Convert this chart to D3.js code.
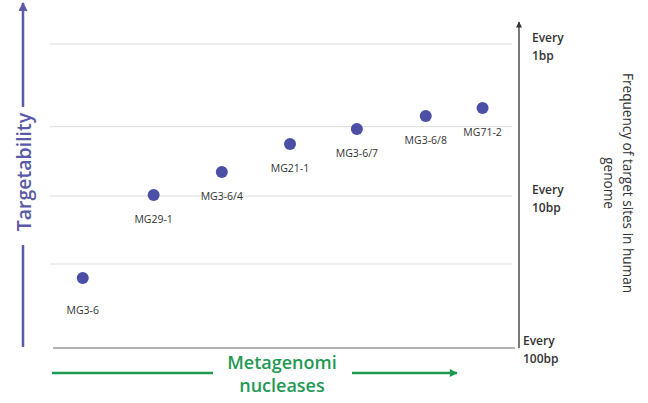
<!DOCTYPE html>
<html>
<head>
  <meta charset="utf-8">
  <title>Targetability of Metagenomi nucleases</title>
  <style>
    body { margin: 0; background: #fff; }
    svg { display: block; font-family: "Open Sans", sans-serif; }
    .grid line { stroke: #dcdcdc; stroke-width: 1px; }
    .dot { fill: #4b4fa6; }
    .label { font-size: 10.5px; fill: #333; }
    .tick-label { font-size: 12px; font-weight: 600; fill: #333; }
  </style>
</head>
<body>
  <script src="https://d3js.org/d3.v7.min.js"></script>
  <script>
    // nucleases, left to right
    const nucleases = ["MG3-6", "MG29-1", "MG3-6/4", "MG21-1", "MG3-6/7", "MG3-6/8", "MG71-2"];
    // position along the x axis (ordering)
    const order = [0.49, 1.55, 2.57, 3.59, 4.59, 5.62, 6.47];
    // one target site every N bp (log scale)
    const siteSpacing = [34.6, 9.85, 6.95, 4.55, 3.62, 2.98, 2.64];
    const gridValues = [1, 3.5, 10, 28];
    const tickValues = [1, 10, 100];
    const tickLabels = [["Every", "1bp"], ["Every", "10bp"], ["Every", "100bp"]];

    const width = 648, height = 403;
    const plotLeft = 50, plotRight = 518, plotTop = 44, plotBottom = 348;

    const svg = d3.select("body").append("svg")
      .attr("width", width).attr("height", height);

    const defs = svg.append("defs");
    function arrow(id, color, w, h) {
      defs.append("marker")
        .attr("id", id).attr("viewBox", "0 0 10 10")
        .attr("refX", 9).attr("refY", 5)
        .attr("markerWidth", w).attr("markerHeight", h)
        .attr("markerUnits", "userSpaceOnUse")
        .attr("orient", "auto")
        .append("path").attr("d", "M0,0L10,5L0,10Z").attr("fill", color);
    }
    arrow("arr-purple", "#5a5aa8", 10, 9);
    arrow("arr-green", "#1f9a55", 9, 8);
    arrow("arr-dark", "#333", 7, 6);

    const x = d3.scaleLinear().domain([0, 7]).range([plotLeft, plotRight]);
    const y = d3.scaleLog().domain([1, 100]).range([plotTop, plotBottom]);

    // gridlines
    svg.append("g").attr("class", "grid")
      .selectAll("line").data(gridValues).join("line")
      .attr("x1", plotLeft).attr("x2", plotRight - 6)
      .attr("y1", d => y(d)).attr("y2", d => y(d));

    // baseline
    svg.append("line")
      .attr("x1", plotLeft + 3).attr("x2", plotRight - 3)
      .attr("y1", y(100)).attr("y2", y(100))
      .attr("stroke", "#999").attr("stroke-width", 1.5);

    // right axis with arrow
    svg.append("line")
      .attr("x1", plotRight + 1).attr("x2", plotRight + 1)
      .attr("y1", plotBottom).attr("y2", 22)
      .attr("stroke", "#333").attr("stroke-width", 1.3)
      .attr("marker-end", "url(#arr-dark)");

    const tickX = i => i === 2 ? plotRight + 5 : plotRight + 14;
    const ticks = svg.append("g").selectAll("text").data(tickValues).join("text")
      .attr("class", "tick-label")
      .attr("x", (d, i) => tickX(i))
      .attr("y", (d, i) => y(d) - (i === 2 ? 3 : 2));
    ticks.append("tspan").attr("x", (d, i) => tickX(i))
      .text((d, i) => tickLabels[i][0]);
    ticks.append("tspan").attr("x", (d, i) => tickX(i))
      .attr("dy", 18).text((d, i) => tickLabels[i][1]);

    // right axis title
    svg.append("text")
      .attr("transform", "translate(623,183) rotate(90)")
      .attr("text-anchor", "middle")
      .attr("font-size", 13.6).attr("fill", "#333")
      .selectAll("tspan").data(["Frequency of target sites in human", "genome"]).join("tspan")
      .attr("x", 0).attr("dy", (d, i) => i === 0 ? 0 : 19)
      .text(d => d);

    // points
    svg.append("g").selectAll("circle").data(nucleases).join("circle")
      .attr("class", "dot")
      .attr("cx", (d, i) => x(order[i]))
      .attr("cy", (d, i) => y(siteSpacing[i]))
      .attr("r", 6);

    svg.append("g").selectAll("text").data(nucleases).join("text")
      .attr("class", "label")
      .attr("text-anchor", "middle")
      .attr("x", (d, i) => x(order[i]))
      .attr("y", (d, i) => y(siteSpacing[i]) + (i === 0 ? 36 : 28))
      .text(d => d);

    // left title with arrow
    svg.append("line")
      .attr("x1", 23).attr("x2", 23).attr("y1", 347).attr("y2", 245)
      .attr("stroke", "#5a5aa8").attr("stroke-width", 2.5);
    svg.append("line")
      .attr("x1", 23).attr("x2", 23).attr("y1", 107).attr("y2", 3)
      .attr("stroke", "#5a5aa8").attr("stroke-width", 2.5)
      .attr("marker-end", "url(#arr-purple)");
    svg.append("text")
      .attr("transform", "translate(31,172) rotate(-90)")
      .attr("text-anchor", "middle")
      .attr("font-size", 19.5).attr("font-weight", 600).attr("fill", "#5a5aa8")
      .text("Targetability");

    // bottom title with arrow
    svg.append("line")
      .attr("x1", 52).attr("x2", 213).attr("y1", 373).attr("y2", 373)
      .attr("stroke", "#1f9a55").attr("stroke-width", 2.5);
    svg.append("line")
      .attr("x1", 352).attr("x2", 457).attr("y1", 373).attr("y2", 373)
      .attr("stroke", "#1f9a55").attr("stroke-width", 2.5)
      .attr("marker-end", "url(#arr-green)");
    svg.append("text")
      .attr("text-anchor", "middle")
      .attr("font-size", 18).attr("font-weight", 600).attr("fill", "#1f9a55")
      .selectAll("tspan").data(["Metagenomi", "nucleases"]).join("tspan")
      .attr("x", 282).attr("y", (d, i) => i === 0 ? 369 : 392)
      .text(d => d);
  </script>
</body>
</html>
